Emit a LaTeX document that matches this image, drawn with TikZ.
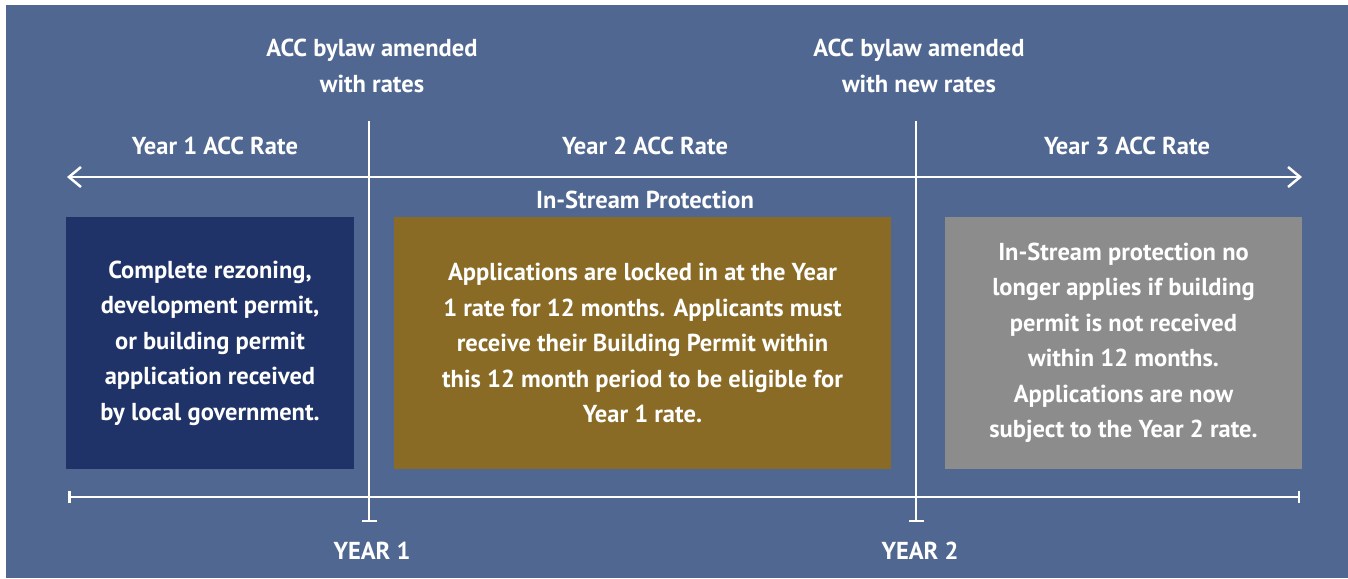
\documentclass[tikz,border=0pt]{standalone}
\usepackage{fontspec}
\setmainfont{PT Sans}
\usetikzlibrary{arrows.meta}
\definecolor{bgblue}{RGB}{79,103,145}
\definecolor{accnavy}{RGB}{31,51,104}
\definecolor{accgold}{RGB}{138,107,37}
\definecolor{accgrey}{RGB}{140,140,140}
\tikzset{
  lbl/.style={text=white,font=\fontsize{24.5}{35.5}\selectfont\bfseries,align=center},
  ratebox/.style={lbl,minimum height=252pt,inner sep=0pt},
  wline/.style={white,line width=2.5pt}
}
\begin{document}
\begin{tikzpicture}[x=1pt,y=-1pt]
      \useasboundingbox (0,0) rectangle (1348,578);
      \fill[white] (0,0) rectangle (1348,578);
      \fill[bgblue] (6,5) rectangle (1348,578);
      % top notes
      \node[lbl] (amend1) at (372,66) {ACC bylaw amended\\with rates};
      \node[lbl] (amend2) at (919,66) {ACC bylaw amended\\with new rates};
      \node[lbl] (rate1) at (215,146) {Year 1 ACC Rate};
      \node[lbl] (rate2) at (645,146) {Year 2 ACC Rate};
      \node[lbl] (rate3) at (1127,146) {Year 3 ACC Rate};
      \node[lbl] (stream) at (645,200) {In-Stream Protection};
      % boxes
      \node[ratebox,fill=accnavy,minimum width=288pt] (box1) at (210,343)
        {Complete rezoning,\\development permit,\\or building permit\\application received\\by local government.};
      \node[ratebox,fill=accgold,minimum width=497pt] (box2) at (642.5,343)
        {Applications are locked in at the Year\\1 rate for 12 months. Applicants must\\receive their Building Permit within\\this 12 month period to be eligible for\\Year 1 rate.};
      \node[ratebox,fill=accgrey,minimum width=357pt] (box3) at (1123.5,343)
        {In-Stream protection no\\longer applies if building\\permit is not received\\within 12 months.\\Applications are now\\subject to the Year 2 rate.};
      % lines
      \coordinate (arrowL) at (67,177);
      \coordinate (arrowR) at (1302,177);
      \coordinate (lineL) at (68,497);
      \coordinate (lineR) at (1300,497);
      \coordinate (cut1top) at (369,121);
      \coordinate (cut1bot) at (369,522);
      \coordinate (cut2top) at (916,121);
      \coordinate (cut2bot) at (916,522);
      \draw[wline,{Straight Barb[length=12pt,width=20pt]}-{Straight Barb[length=12pt,width=20pt]}] (arrowL)--(arrowR);
      \draw[wline,{Bar[width=12pt]}-{Bar[width=12pt]}] (lineL)--(lineR);
      \draw[wline,-{Bar[width=15pt]}] (cut1top)--(cut1bot);
      \draw[wline,-{Bar[width=15pt]}] (cut2top)--(cut2bot);
      \node[lbl] (year1) at (372,551) {YEAR 1};
      \node[lbl] (year2) at (920,551) {YEAR 2};
\end{tikzpicture}
\end{document}
